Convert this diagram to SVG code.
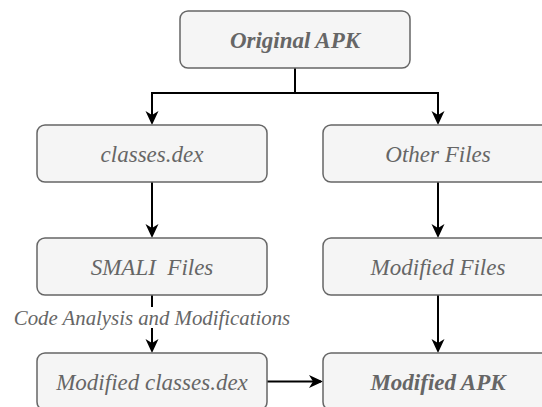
<svg xmlns="http://www.w3.org/2000/svg" width="542" height="407" viewBox="0 0 542 407">
  <style>
    .box { fill: #f5f5f5; stroke: #666666; stroke-width: 1.5; }
    .lbl { font-family: "Liberation Serif", "Times New Roman", serif; font-style: italic; font-size: 23px; fill: #666666; text-anchor: middle; white-space: pre; }
    .bold { font-weight: bold; }
    .note { font-family: "Liberation Serif", "Times New Roman", serif; font-style: italic; font-size: 20.8px; fill: #666666; text-anchor: middle; }
    .edge { fill: none; stroke: #000000; stroke-width: 2; }
  </style>
  <defs>
    <marker id="arrow" markerUnits="userSpaceOnUse" viewBox="0 0 14 14" markerWidth="14" markerHeight="14" refX="12" refY="7" orient="auto">
      <path d="M0,0.5 L14,7 L0,13.5 L4,7 Z" fill="#000000"/>
    </marker>
  </defs>

  <rect width="542" height="407" fill="#ffffff"/>

  <g id="connectors">
    <path class="edge" d="M295,68 V93 H152 V123" marker-end="url(#arrow)"/>
    <path class="edge" d="M295,68 V93 H438 V123" marker-end="url(#arrow)"/>
    <path class="edge" d="M152,182 V236" marker-end="url(#arrow)"/>
    <path class="edge" d="M438,182 V236" marker-end="url(#arrow)"/>
    <path class="edge" d="M152,295 V307"/>
    <path class="edge" d="M152,328 V351" marker-end="url(#arrow)"/>
    <path class="edge" d="M438,295 V351" marker-end="url(#arrow)"/>
    <path class="edge" d="M267,381.5 H321" marker-end="url(#arrow)"/>
    <text class="note" x="152" y="325">Code Analysis and Modifications</text>
  </g>

  <g id="original-apk">
    <rect class="box" x="180" y="11" width="230" height="57" rx="8"/>
    <text class="lbl bold" x="295" y="47.5">Original APK</text>
  </g>
  <g id="classes-dex">
    <rect class="box" x="37" y="125" width="230" height="57" rx="8"/>
    <text class="lbl" x="152" y="161.5">classes.dex</text>
  </g>
  <g id="other-files">
    <rect class="box" x="323" y="125" width="230" height="57" rx="8"/>
    <text class="lbl" x="438" y="161.5">Other Files</text>
  </g>
  <g id="smali-files">
    <rect class="box" x="37" y="238" width="230" height="57" rx="8"/>
    <text class="lbl" x="152" y="274.5">SMALI  Files</text>
  </g>
  <g id="modified-files">
    <rect class="box" x="323" y="238" width="230" height="57" rx="8"/>
    <text class="lbl" x="438" y="274.5">Modified Files</text>
  </g>
  <g id="modified-classes-dex">
    <rect class="box" x="37" y="353" width="230" height="57" rx="8"/>
    <text class="lbl" x="152" y="389.5">Modified classes.dex</text>
  </g>
  <g id="modified-apk">
    <rect class="box" x="323" y="353" width="230" height="57" rx="8"/>
    <text class="lbl bold" x="438" y="389.5">Modified APK</text>
  </g>
</svg>
